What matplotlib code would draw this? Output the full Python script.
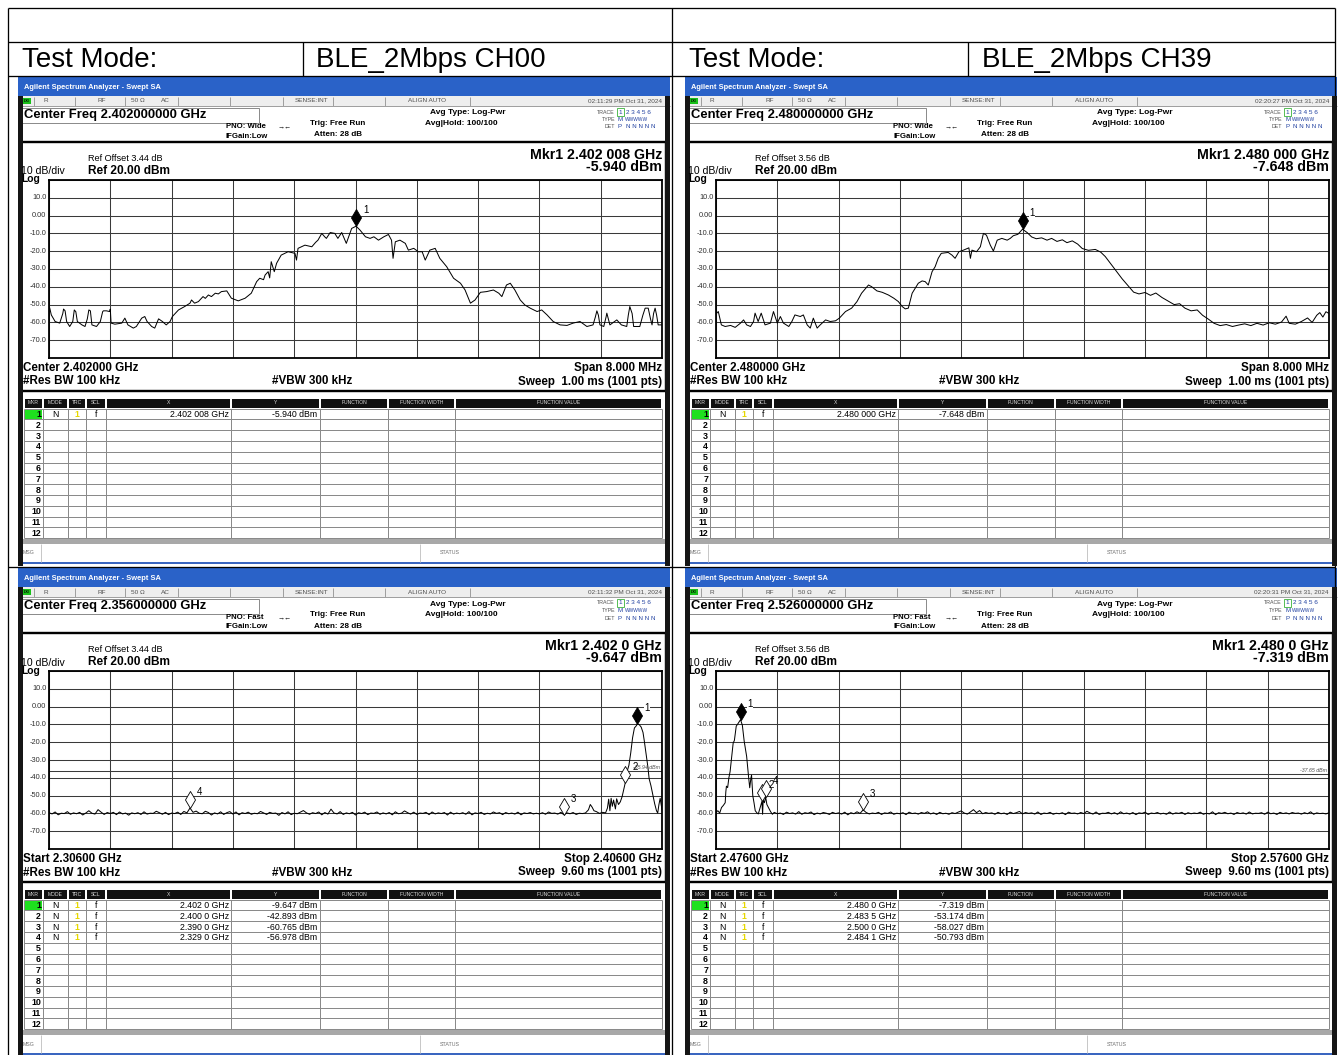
import numpy as np
import matplotlib
matplotlib.use("Agg")
import matplotlib.pyplot as plt
from matplotlib.patches import Rectangle
from matplotlib.path import Path
from matplotlib.transforms import blended_transform_factory

W, H = 1343, 1055
DPI = 100
plt.rcParams["font.family"] = ["Liberation Sans", "DejaVu Sans"]

# ------------------------------------------------------------------ data
test_mode_label = "Test Mode:"
test_mode_left = "BLE_2Mbps CH00"
test_mode_right = "BLE_2Mbps CH39"

# in-band sweeps: (offset from centre in MHz, level in dBm)
ch00_center_mhz = 2402.0
ch00_ref_offset = 3.44
ch00_trace = [
    (-3.99, -52.0), (-3.97, -55.8), (-3.92, -59.5), (-3.86, -60.4), (-3.82, -55.0),
    (-3.81, -52.5), (-3.79, -53.5), (-3.77, -59.5), (-3.73, -62.3), (-3.69, -59.5),
    (-3.67, -53.0), (-3.65, -54.0), (-3.63, -59.5), (-3.57, -61.4), (-3.53, -62.3),
    (-3.50, -58.0), (-3.48, -53.0), (-3.46, -53.5), (-3.44, -61.4), (-3.38, -62.3),
    (-3.33, -59.5), (-3.30, -54.0), (-3.29, -53.5), (-3.25, -53.5), (-3.21, -53.9),
    (-3.20, -52.5), (-3.19, -60.4), (-3.14, -61.0), (-3.05, -60.4), (-3.01, -57.6),
    (-2.97, -61.4), (-2.90, -63.2), (-2.86, -62.3), (-2.79, -57.6), (-2.75, -56.7),
    (-2.72, -59.5), (-2.70, -60.4), (-2.66, -62.3), (-2.62, -63.2), (-2.57, -58.0),
    (-2.52, -59.5), (-2.47, -61.4), (-2.42, -59.5), (-2.39, -56.7), (-2.31, -53.0),
    (-2.23, -51.1), (-2.16, -49.2), (-2.14, -47.4), (-2.10, -49.2), (-2.05, -48.3),
    (-1.99, -45.5), (-1.96, -46.5), (-1.92, -44.6), (-1.88, -45.5), (-1.83, -43.6),
    (-1.79, -44.0), (-1.75, -42.7), (-1.68, -42.3), (-1.62, -46.4), (-1.53, -47.9),
    (-1.44, -46.4), (-1.36, -43.6), (-1.29, -37.1), (-1.25, -35.2), (-1.20, -36.0),
    (-1.18, -33.4), (-1.14, -31.5), (-1.12, -35.0), (-1.10, -25.9), (-1.06, -31.5),
    (-1.03, -26.8), (-0.97, -22.2), (-0.88, -20.3), (-0.79, -21.2), (-0.77, -25.0),
    (-0.75, -18.4), (-0.66, -16.6), (-0.57, -17.5), (-0.52, -15.0), (-0.49, -13.8),
    (-0.44, -10.0), (-0.40, -12.0), (-0.38, -12.8), (-0.33, -9.5), (-0.27, -10.0),
    (-0.23, -12.8), (-0.18, -9.5), (-0.12, -15.6), (-0.05, -7.2), (0.008, -5.94),
    (0.06, -8.2), (0.13, -11.9), (0.19, -12.8), (0.24, -11.9), (0.30, -13.8),
    (0.37, -11.9), (0.43, -10.6), (0.47, -13.8), (0.49, -24.0), (0.52, -14.7),
    (0.58, -13.8), (0.65, -15.6), (0.69, -19.4), (0.76, -18.4), (0.82, -20.3),
    (0.87, -20.3), (0.91, -25.0), (0.97, -19.4), (1.04, -18.4), (1.10, -24.0),
    (1.19, -28.7), (1.28, -35.2), (1.37, -38.0), (1.43, -41.8), (1.50, -49.2),
    (1.56, -47.4), (1.63, -43.1), (1.71, -42.7), (1.80, -41.8), (1.87, -43.6),
    (1.91, -45.5), (1.97, -39.0), (2.02, -38.0), (2.08, -41.8), (2.15, -47.4),
    (2.21, -50.2), (2.28, -52.0), (2.37, -53.9), (2.43, -53.0), (2.50, -55.8),
    (2.58, -59.5), (2.67, -61.4), (2.76, -61.7), (2.84, -60.4), (2.93, -59.5),
    (3.02, -62.3), (3.10, -61.4), (3.13, -57.0), (3.15, -53.5), (3.17, -56.0),
    (3.19, -61.4), (3.24, -62.3), (3.27, -57.0), (3.28, -54.8), (3.30, -58.0),
    (3.32, -61.4), (3.41, -58.6), (3.47, -61.4), (3.54, -62.3), (3.56, -56.0),
    (3.58, -51.1), (3.61, -55.0), (3.63, -62.3), (3.71, -62.3), (3.75, -56.0),
    (3.78, -52.0), (3.82, -52.0), (3.85, -58.0), (3.87, -61.4), (3.89, -55.0),
    (3.91, -52.0), (3.93, -56.0), (3.95, -61.4), (4.00, -61.4),
]
ch00_markers = [(2402.008, -5.940)]

ch39_center_mhz = 2480.0
ch39_ref_offset = 3.56
ch39_trace = [
    (-3.99, -54.8), (-3.97, -53.9), (-3.93, -61.4), (-3.88, -62.3), (-3.81, -61.7),
    (-3.75, -62.8), (-3.68, -60.4), (-3.64, -58.6), (-3.60, -61.4), (-3.55, -62.3),
    (-3.51, -59.5), (-3.49, -54.8), (-3.45, -59.5), (-3.41, -54.8), (-3.36, -61.4),
    (-3.29, -60.4), (-3.25, -53.9), (-3.20, -60.4), (-3.16, -56.7), (-3.12, -60.4),
    (-3.05, -62.3), (-3.01, -59.5), (-2.97, -55.8), (-2.90, -56.7), (-2.86, -55.8),
    (-2.81, -61.4), (-2.77, -63.2), (-2.73, -57.6), (-2.68, -63.2), (-2.64, -61.4),
    (-2.57, -58.6), (-2.51, -59.5), (-2.44, -59.1), (-2.39, -57.6), (-2.31, -53.9),
    (-2.23, -52.0), (-2.16, -48.3), (-2.10, -43.6), (-2.01, -39.0), (-1.97, -39.9),
    (-1.90, -42.3), (-1.83, -43.1), (-1.75, -44.6), (-1.68, -46.4), (-1.62, -48.3),
    (-1.57, -51.1), (-1.53, -52.4), (-1.49, -52.0), (-1.44, -43.6), (-1.40, -40.8),
    (-1.36, -38.0), (-1.31, -36.7), (-1.27, -37.1), (-1.23, -39.0), (-1.18, -31.5),
    (-1.14, -28.7), (-1.10, -24.0), (-1.06, -21.2), (-0.97, -20.7), (-0.92, -22.2),
    (-0.88, -24.0), (-0.83, -20.3), (-0.77, -19.4), (-0.70, -18.1), (-0.68, -24.0),
    (-0.66, -19.4), (-0.60, -20.3), (-0.55, -17.5), (-0.51, -10.0), (-0.47, -11.0),
    (-0.42, -16.6), (-0.38, -19.9), (-0.33, -13.8), (-0.27, -12.8), (-0.20, -13.8),
    (-0.16, -12.8), (-0.12, -11.3), (-0.06, -10.5), (0.00, -7.648), (0.06, -9.5),
    (0.12, -12.0), (0.18, -13.0), (0.25, -12.5), (0.32, -13.8), (0.38, -12.8),
    (0.45, -14.5), (0.52, -13.6), (0.58, -15.2), (0.65, -14.2), (0.72, -16.0),
    (0.78, -18.5), (0.86, -19.5), (0.95, -19.0), (1.02, -20.5), (1.08, -23.0),
    (1.15, -27.0), (1.22, -31.0), (1.30, -35.5), (1.38, -39.5), (1.45, -43.0),
    (1.52, -44.0), (1.60, -43.2), (1.67, -44.8), (1.74, -43.5), (1.82, -46.0),
    (1.90, -48.0), (1.98, -50.0), (2.05, -49.5), (2.12, -52.0), (2.20, -53.5),
    (2.28, -53.0), (2.35, -56.0), (2.42, -58.0), (2.50, -60.5), (2.58, -61.8),
    (2.66, -61.2), (2.74, -62.3), (2.82, -61.5), (2.90, -60.8), (2.98, -61.8),
    (3.06, -60.5), (3.14, -61.5), (3.22, -60.2), (3.30, -61.0), (3.38, -59.8),
    (3.44, -56.5), (3.48, -60.5), (3.56, -61.0), (3.64, -59.5), (3.72, -57.5),
    (3.78, -60.0), (3.84, -56.0), (3.88, -54.5), (3.92, -57.0), (3.96, -54.0),
    (4.00, -55.0),
]
ch39_markers = [(2480.000, -7.648)]

# band-edge sweeps: noise floor on a 0.5 MHz grid plus the carrier skirt
ch00_edge_start, ch00_edge_stop = 2306.0, 2406.0
ch00_edge_floor_start = 2306.0
ch00_edge_floor = [
    -59.6, -60.3, -59.2, -60.8, -59.9, -60.1, -59.0, -60.5, -59.7, -60.2,
    -59.4, -60.9, -59.8, -58.5, -59.9, -60.4, -57.9, -59.3, -60.6, -59.5,
    -60.1, -59.4, -60.7, -59.2, -60.3, -59.8, -61.0, -59.7, -60.2, -59.6,
    -60.6, -59.1, -60.4, -59.9, -60.0, -58.8, -59.6, -60.5, -59.4, -60.7,
    -59.8, -60.1, -59.3, -60.6, -58.9, -59.7, -56.98, -59.4, -58.7, -59.9,
    -60.2, -58.8, -59.5, -60.9, -59.7, -60.3, -59.1, -60.6, -59.6, -59.0,
    -60.4, -59.2, -60.8, -59.6, -60.1, -59.3, -60.5, -59.9, -60.2, -58.9,
    -59.7, -60.6, -59.4, -60.0, -59.8, -61.1, -59.5, -60.3, -59.1, -60.7,
    -59.9, -60.2, -59.3, -58.4, -59.7, -60.5, -59.6, -60.1, -59.2, -60.8,
    -59.5, -60.4, -57.6, -59.8, -60.3, -59.0, -60.6, -59.7, -60.2, -59.4,
    -60.9, -59.6, -60.1, -59.3, -60.7, -59.8, -60.0, -59.2, -60.5, -59.7,
    -60.3, -59.5, -60.8, -59.1, -60.2, -59.9, -58.6, -59.6, -60.4, -59.3,
    -60.6, -59.8, -60.0, -59.4, -60.7, -59.2, -60.3, -59.7, -60.1, -59.5,
    -60.9, -59.3, -60.4, -59.8, -60.2, -59.6, -60.5, -59.0, -60.8, -59.7,
    -60.1, -59.4, -60.6, -59.9, -60.3, -59.2, -60.0, -59.6, -60.7, -59.5,
    -60.2, -59.8, -60.4, -59.3, -60.8, -59.7, -60.1, -59.5, -60.3, -59.9,
    -60.3, -59.6, -60.5, -59.2, -60.0, -59.8, -60.4, -59.4, -60.77, -59.7,
    -60.2, -59.5, -60.6, -59.9, -60.1,
]
ch00_edge_lobe = [
    (2393.5, -59.8), (2394.0, -58.0), (2394.3, -55.0), (2394.6, -56.5), (2394.9, -58.5),
    (2395.3, -59.0), (2395.8, -60.0), (2396.3, -59.4), (2396.8, -59.7), (2397.1, -57.0),
    (2397.3, -52.0), (2397.5, -58.5), (2397.7, -51.5), (2397.9, -56.0), (2398.1, -52.5),
    (2398.4, -57.5), (2398.6, -51.8), (2398.9, -55.0), (2399.2, -53.5), (2399.5, -50.5),
    (2399.8, -46.0), (2400.0, -42.9), (2400.3, -36.5), (2400.6, -33.0), (2400.9, -26.0),
    (2401.2, -17.5), (2401.5, -12.0), (2401.8, -10.8), (2402.0, -9.65), (2402.3, -10.2),
    (2402.6, -11.5), (2402.9, -14.5), (2403.1, -19.0), (2403.4, -26.5), (2403.7, -34.0),
    (2403.9, -40.5), (2404.2, -44.5), (2404.5, -49.5), (2404.8, -54.5), (2405.1, -58.5),
    (2405.3, -59.8), (2405.5, -55.0), (2405.7, -51.5), (2405.9, -56.0), (2406.0, -58.0),
]
ch00_edge_markers = [(2402.0, -9.647), (2400.0, -42.893), (2390.0, -60.765), (2329.0, -56.978)]
ch00_edge_limit = -35.94

ch39_edge_start, ch39_edge_stop = 2476.0, 2576.0
ch39_edge_lobe = [
    (2476.0, -59.5), (2476.3, -58.5), (2476.6, -59.8), (2476.9, -56.7), (2477.2, -55.5),
    (2477.5, -54.0), (2477.6, -48.0), (2477.7, -44.7), (2477.9, -45.5), (2478.1, -40.0),
    (2478.3, -36.5), (2478.5, -30.0), (2478.8, -20.5), (2479.0, -19.0), (2479.3, -11.0),
    (2479.6, -9.5), (2480.0, -7.32), (2480.3, -10.5), (2480.6, -19.5), (2481.0, -28.0),
    (2481.3, -39.0), (2481.5, -45.6), (2481.7, -40.0), (2481.8, -38.5), (2482.0, -50.0),
    (2482.2, -54.0), (2482.4, -58.5), (2482.7, -59.8), (2482.9, -60.3), (2483.2, -56.7),
    (2483.5, -53.2), (2483.6, -60.5), (2483.7, -52.5), (2483.9, -54.0), (2484.1, -50.8),
    (2484.3, -55.0), (2484.6, -57.0), (2484.9, -59.0), (2485.2, -60.5),
]
ch39_edge_floor_start = 2485.5
ch39_edge_floor = [
    -59.4, -60.2, -59.8, -60.6, -59.3, -60.1, -59.7, -60.4, -59.0, -60.5,
    -59.6, -60.0, -59.2, -60.7, -59.8, -60.3, -59.5, -59.9, -60.6, -59.4,
    -60.1, -59.7, -60.4, -59.3, -60.8, -59.6, -60.2, -59.1, -60.0, -58.03,
    -59.5, -60.3, -59.8, -60.1, -59.4, -60.6, -59.7, -60.0, -59.2, -60.5,
    -59.9, -60.2, -59.6, -60.7, -59.3, -60.1, -59.8, -60.4, -59.5, -60.0,
    -59.1, -60.3, -59.7, -60.6, -59.4, -60.2, -59.9, -60.5, -59.6, -60.1,
    -59.3, -58.6, -59.8, -60.4, -59.2, -57.9, -59.6, -58.4, -60.2, -59.5,
    -60.0, -59.7, -60.5, -59.4, -60.2, -59.8, -60.6, -59.3, -60.1, -59.6,
    -58.9, -60.3, -59.5, -60.0, -59.7, -60.4, -59.2, -60.6, -59.8, -60.1,
    -59.4, -60.5, -59.9, -60.2, -59.6, -60.7, -59.3, -60.0, -59.8, -60.3,
    -59.5, -60.1, -58.8, -59.7, -60.4, -59.2, -60.6, -59.9, -60.0, -59.4,
    -60.3, -59.6, -60.5, -59.1, -60.2, -59.8, -60.4, -59.5, -60.7, -59.7,
    -60.0, -59.3, -60.6, -59.8, -60.1, -59.5, -60.3, -59.9, -60.5, -59.2,
    -60.4, -59.7, -60.0, -59.4, -60.6, -59.6, -60.2, -59.8, -60.1, -59.3,
    -60.5, -59.9, -60.3, -59.1, -60.7, -59.6, -60.0, -59.4, -60.2, -59.8,
    -60.6, -59.5, -60.1, -59.7, -60.4, -59.2, -60.3, -59.9, -60.0, -59.6,
    -60.5, -59.3, -60.2, -59.8, -60.6, -59.4, -60.1, -59.7, -60.3, -59.5,
    -60.0, -59.8, -60.4, -59.6, -60.2, -59.1, -60.5, -59.7, -60.1, -59.9,
    -60.3, -59.6,
]
ch39_edge_markers = [(2480.0, -7.319), (2483.5, -53.174), (2500.0, -58.027), (2484.1, -50.793)]
ch39_edge_limit = -37.65

timestamps = ["02:11:29 PM Oct 31, 2024", "02:20:27 PM Oct 31, 2024",
              "02:11:32 PM Oct 31, 2024", "02:20:31 PM Oct 31, 2024"]

# ------------------------------------------------------------------ canvas
fig = plt.figure(figsize=(W / DPI, H / DPI), dpi=DPI)
bg = fig.add_axes([0, 0, 1, 1])
bg.set_xlim(0, W)
bg.set_ylim(H, 0)
bg.axis("off")


def lw_px(p):
    return p * 72.0 / DPI


def rect(x0, y0, x1, y1, fc="none", ec="none", lw=0.0, z=2):
    bg.add_patch(Rectangle((x0, y0), x1 - x0, y1 - y0, facecolor=fc,
                           edgecolor=ec, linewidth=lw_px(lw), zorder=z))


def line(xs, ys, color="black", lw=1.0, z=3):
    bg.plot(xs, ys, color=color, lw=lw_px(lw), zorder=z, solid_capstyle="butt")


def text(x, y, s, size, ha="left", va="center", bold=False, color="black", z=5, **kw):
    bg.text(x, y, s, fontsize=size, ha=ha, va=va, color=color, zorder=z,
            fontweight="bold" if bold else "normal", **kw)


def ghz_str(mhz, decimals):
    s = f"{mhz / 1000.0:.{decimals}f}"
    whole, frac = s.split(".")
    return f"{whole}.{frac[:3]} {frac[3:]}"


diamond = Path([(0, 0), (0.59, 1), (0, 2), (-0.59, 1), (0, 0)],
               [Path.MOVETO, Path.LINETO, Path.LINETO, Path.LINETO, Path.CLOSEPOLY])

# ------------------------------------------------------------------ document grid
doc_lw = 1.3
line([8, 1335], [8, 8], lw=doc_lw)
line([8, 1335], [42, 42], lw=doc_lw)
line([8, 1335], [76, 76], lw=doc_lw)
line([8, 1335], [567, 567], lw=doc_lw)
for xv in (8, 672, 1335):
    line([xv, xv], [8, H], lw=doc_lw)
for xv in (303, 968):
    line([xv, xv], [42, 76], lw=doc_lw)
text(22, 60, test_mode_label, 20)
text(316, 60, test_mode_left, 20)
text(689, 60, test_mode_label, 20)
text(982, 60, test_mode_right, 20)


# ------------------------------------------------------------------ analyzer screen
def draw_screen(dx, dy, cfg):
    def R(x0, y0, x1, y1, **k):
        rect(x0 + dx, y0 + dy, x1 + dx, y1 + dy, **k)

    def L(xs, ys, **k):
        line([v + dx for v in xs], [v + dy for v in ys], **k)

    def T(x, y, s, size, **k):
        text(x + dx, y + dy, s, size, **k)

    grey = "#505050"
    # body and frame
    R(18, 77, 670, 566, fc="white", z=1)
    R(18, 77, 670, 96, fc="#2a62c8")
    T(24, 87.5, "Agilent Spectrum Analyzer - Swept SA", 5.4, bold=True, color="white")
    # status strip
    R(18, 96, 670, 106, fc="#eeeeee")
    for xs in (34, 75, 125, 178, 230, 283, 333, 385, 470):
        L([xs, xs], [96.5, 105.5], color="#a0a0a0", lw=1)
    L([18, 670], [106, 106], color="#a0a0a0", lw=1)
    R(23, 97.5, 31, 104, fc="#19c019")
    T(27, 101, "LXI", 2.6, ha="center", bold=True)
    T(43, 101, "R", 4.6, color=grey)
    T(98, 101, "RF", 4.6, color=grey)
    T(131, 101, "50 \u03a9", 4.6, color=grey)
    T(161, 101, "AC", 4.6, color=grey)
    T(295, 101, "SENSE:INT", 4.6, color=grey)
    T(408, 101, "ALIGN AUTO", 4.6, color=grey)
    T(662, 101, cfg["time"], 4.6, ha="right", color=grey)
    # settings block
    R(20, 107.5, 259, 122.5, fc="white", ec="#8c8c8c", lw=1)
    T(24, 115, f"Center Freq {cfg['center'] / 1000:.9f} GHz", 9.4, bold=True)
    T(226, 126.5, f"PNO: {cfg['pno']}", 5.6, bold=True)
    T(226, 136, "IFGain:Low", 5.6, bold=True)
    T(285, 126.5, "\u2192\u2190", 5.0, ha="center")
    T(310, 123.5, "Trig: Free Run", 5.9, bold=True)
    T(314, 135, "Atten: 28 dB", 5.9, bold=True)
    T(430, 113, "Avg Type: Log-Pwr", 6.0, bold=True)
    T(425, 123.5, "Avg|Hold: 100/100", 6.0, bold=True)
    T(615, 112, "TRACE", 3.8, ha="right", color=grey)
    T(615, 119.5, "TYPE", 3.8, ha="right", color=grey)
    T(615, 127, "DET", 3.8, ha="right", color=grey)
    R(617, 108, 624, 116, fc="white", ec="#30b030", lw=0.8)
    T(620.5, 112, "1", 4.6, ha="center", color="#2040a0")
    T(626, 112, "2 3 4 5 6", 4.6, color="#2040a0")
    T(618, 119.5, "M", 4.4, color="#2040a0")
    T(625, 119.5, "WWWWW", 3.5, color="#2040a0")
    T(618, 127, "P", 4.4, color="#2040a0")
    T(626, 127, "N N N N N", 4.4, color="#2040a0")

    # display area
    R(21, 142, 666, 391, fc="white", ec="black", lw=2.4)
    T(88, 158.5, f"Ref Offset {cfg['ref_offset']:.2f} dB", 6.6)
    T(21, 171.5, "10 dB/div", 7.6)
    T(88, 171, "Ref 20.00 dBm", 8.6, bold=True)
    T(21, 179.5, "Log", 7.4, bold=True)
    mk_f, mk_v = cfg["markers"][0]
    T(662, 155, f"Mkr1 {ghz_str(mk_f, cfg['mk_dec'])} GHz", 10.2, bold=True, ha="right")
    T(662, 167, f"{mk_v:.3f} dBm", 10.2, bold=True, ha="right")
    T(23, 368, cfg["lower_left"], 8.4, bold=True)
    T(23, 381.5, "#Res BW 100 kHz", 8.4, bold=True)
    T(312, 381.5, "#VBW 300 kHz", 8.4, bold=True, ha="center")
    T(662, 368, cfg["lower_right"], 8.4, bold=True, ha="right")
    T(662, 381.5, cfg["sweep"], 8.4, bold=True, ha="right")

    # trace window
    f0, f1 = cfg["xlim"]
    ax = fig.add_axes([(49 + dx) / W, 1 - (358 + dy) / H, 613 / W, 178 / H])
    ax.set_xlim(f0, f1)
    ax.set_ylim(-80, 20)
    ax.set_xticks(np.linspace(f0, f1, 11))
    ax.set_yticks(np.arange(-80, 21, 10))
    ax.set_axisbelow(True)
    ax.grid(True, color="#3a3a3a", lw=0.75)
    ax.tick_params(length=0, labelbottom=False, labelleft=False)
    for sp in ax.spines.values():
        sp.set_linewidth(1.3)
        sp.set_color("black")
    ax.plot(cfg["freqs"], cfg["levels"], color="black", lw=0.72, zorder=3)
    tr = blended_transform_factory(ax.transAxes, ax.transData)
    for v in range(10, -71, -10):
        lab = "0.00" if v == 0 else f"{v:.1f}"
        ax.text(-0.004, v, lab, transform=tr, ha="right", va="center",
                fontsize=5.3, color="#303030", clip_on=False)
    if cfg.get("limit") is not None:
        ax.axhline(cfg["limit"], color="#3a3a3a", lw=0.75, zorder=2)
        ax.text(0.997, cfg["limit"] + 0.6, f"{cfg['limit']:.2f} dBm", transform=tr,
                ha="right", va="bottom", fontsize=3.8, style="italic", color="#505050")
    for i, (mf, mv) in enumerate(cfg["markers"]):
        ax.plot([mf], [mv], linestyle="none", marker=diamond, ms=24.5,
                mfc="black" if i == 0 else "white", mec="black", mew=0.6,
                zorder=6, clip_on=False)
        ax.annotate(str(i + 1), (mf, mv), xytext=(5.0, 11.5), textcoords="offset points",
                    fontsize=7, ha="left", va="center", zorder=7,
                    bbox=dict(boxstyle="square,pad=0.05", fc="white", ec="none")
                    if i == 0 else None)

    # marker table
    cols = [24, 43, 68, 86, 106, 231, 320, 388, 455, 662]
    heads = ["MKR", "MODE", "TRC", "SCL", "X", "Y", "FUNCTION", "FUNCTION WIDTH", "FUNCTION VALUE"]
    for c0, c1, h in zip(cols[:-1], cols[1:], heads):
        R(c0 + 0.6, 398.5, c1 - 0.6, 407.5, fc="#111111")
        T((c0 + c1) / 2, 403, h, 3.6, ha="center", color="#d8d8d8")
    row_h = 10.8
    top = 408.5
    for k in range(13):
        L([24, 662], [top + k * row_h] * 2, color="#8a8a8a", lw=1)
    for c in cols:
        L([c, c], [top, top + 12 * row_h], color="#8a8a8a", lw=1)
    R(25, top + 0.6, 42, top + row_h - 0.6, fc="#1ee01e")
    for k in range(12):
        T(41, top + (k + 0.55) * row_h, str(k + 1), 6.4, ha="right", bold=True)
    for k, (mf, mv) in enumerate(cfg["markers"]):
        yc = top + (k + 0.55) * row_h
        T(55.5, yc, "N", 6.2, ha="center")
        T(77, yc, "1", 6.2, ha="center", color="#e6d800", bold=True)
        T(96, yc, "f", 6.2, ha="center")
        T(229, yc, f"{ghz_str(mf, cfg['mk_dec'])} GHz", 6.3, ha="right")
        T(317, yc, f"{mv:.3f} dBm", 6.3, ha="right")
    R(21, 539, 666, 544, fc="#a8a8a8")
    L([41, 41], [544, 562], color="#c8c8c8", lw=1)
    L([420, 420], [544, 562], color="#c8c8c8", lw=1)
    T(23, 553, "MSG", 3.8, color="#707070")
    T(440, 553, "STATUS", 3.8, color="#707070")
    R(18, 562, 670, 564, fc="#3a66c0")
    # dark side rails
    R(18, 96, 22.5, 566, fc="#151515", z=4)
    R(665, 96, 670, 566, fc="#151515", z=4)


def sweep(lobe, floor_start, floor, step=0.5):
    floor_f = [floor_start + step * i for i in range(len(floor))]
    pts = sorted(list(zip(floor_f, floor)) + list(lobe))
    return [p[0] for p in pts], [p[1] for p in pts]


panels = []
panels.append((0, 0, dict(
    time=timestamps[0], center=ch00_center_mhz, pno="Wide", ref_offset=ch00_ref_offset,
    markers=ch00_markers, mk_dec=6, xlim=(ch00_center_mhz - 4, ch00_center_mhz + 4),
    freqs=[ch00_center_mhz + f for f, _ in ch00_trace], levels=[v for _, v in ch00_trace],
    lower_left=f"Center {ch00_center_mhz / 1000:.6f} GHz", lower_right="Span 8.000 MHz",
    sweep="Sweep  1.00 ms (1001 pts)")))
panels.append((667, 0, dict(
    time=timestamps[1], center=ch39_center_mhz, pno="Wide", ref_offset=ch39_ref_offset,
    markers=ch39_markers, mk_dec=6, xlim=(ch39_center_mhz - 4, ch39_center_mhz + 4),
    freqs=[ch39_center_mhz + f for f, _ in ch39_trace], levels=[v for _, v in ch39_trace],
    lower_left=f"Center {ch39_center_mhz / 1000:.6f} GHz", lower_right="Span 8.000 MHz",
    sweep="Sweep  1.00 ms (1001 pts)")))
f3, l3 = sweep(ch00_edge_lobe, ch00_edge_floor_start, ch00_edge_floor)
panels.append((0, 491, dict(
    time=timestamps[2], center=(ch00_edge_start + ch00_edge_stop) / 2, pno="Fast",
    ref_offset=ch00_ref_offset, markers=ch00_edge_markers, mk_dec=4,
    xlim=(ch00_edge_start, ch00_edge_stop), freqs=f3, levels=l3, limit=ch00_edge_limit,
    lower_left=f"Start {ch00_edge_start / 1000:.5f} GHz",
    lower_right=f"Stop {ch00_edge_stop / 1000:.5f} GHz", sweep="Sweep  9.60 ms (1001 pts)")))
f4, l4 = sweep(ch39_edge_lobe, ch39_edge_floor_start, ch39_edge_floor)
panels.append((667, 491, dict(
    time=timestamps[3], center=(ch39_edge_start + ch39_edge_stop) / 2, pno="Fast",
    ref_offset=ch39_ref_offset, markers=ch39_edge_markers, mk_dec=4,
    xlim=(ch39_edge_start, ch39_edge_stop), freqs=f4, levels=l4, limit=ch39_edge_limit,
    lower_left=f"Start {ch39_edge_start / 1000:.5f} GHz",
    lower_right=f"Stop {ch39_edge_stop / 1000:.5f} GHz", sweep="Sweep  9.60 ms (1001 pts)")))

for dx, dy, cfg in panels:
    draw_screen(dx, dy, cfg)

fig.savefig("out.png", dpi=DPI)
